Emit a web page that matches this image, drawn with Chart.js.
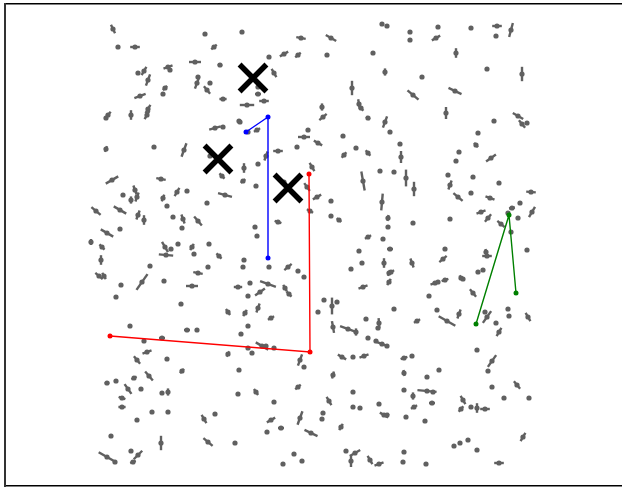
<!DOCTYPE html>
<html>
<head>
<meta charset="utf-8">
<script src="https://cdn.jsdelivr.net/npm/chart.js@4"></script>
<style>
  html, body { margin: 0; padding: 0; background: #fff; }
  #wrap { width: 622px; height: 487px; }
</style>
</head>
<body>
<div id="wrap"><canvas id="chart"></canvas></div>
<script>
// gray particles: [x, y, angle (deg), stick length] ; length 0 = dot only
const particles = [
  [113,29,65,8],[205,34,0,0],[118,47,0,0],[135,47,0,8],[214,47,-40,6],[195,62,0,10],
  [220,65,20,4],[138,73,0,0],[144,71,-60,8],[168,67,-20,8],[170,70,0,0],[148,80,-70,10],
  [198,77,0,0],[197,83,-70,10],[210,83,0,0],[207,90,50,8],[165,88,-45,5],[163,94,0,0],
  [140,96,-20,10],[223,99,0,6],[148,109,-60,8],[147,115,-60,8],[108,115,-50,7],[106,118,0,0],
  [131,115,90,8],[239,121,0,0],[215,128,-15,10],[223,127,0,0],[106,149,-70,5],[154,147,0,0],
  [184,150,-70,12],[210,156,0,0],[222,176,45,6],[112,180,-30,12],[161,179,10,8],[225,195,15,12],
  [135,190,70,8],[137,197,-70,8],[123,195,0,0],[131,200,90,6],[163,198,-70,6],[167,206,0,0],
  [177,192,-60,8],[187,191,0,0],[207,203,0,0],[96,211,40,10],[120,210,30,12],[138,215,-70,8],
  [144,220,90,8],[173,217,0,0],[183,219,70,8],[182,228,0,0],[198,221,50,10],[120,229,0,0],
  [107,233,30,12],[91,242,90,5],
  [102,247,45,6],[101,260,90,8],[165,247,60,10],[171,249,0,0],[166,255,5,12],[178,244,0,0],
  [192,247,-60,6],[194,254,0,0],[209,244,0,0],[219,256,45,6],[150,266,0,0],[208,267,0,0],
  [198,273,10,8],[99,276,40,8],[104,276,60,6],[121,285,0,0],[142,282,-55,16],[164,281,0,0],
  [192,286,0,10],[238,287,0,7],[116,297,-20,3],[181,304,0,0],[228,312,55,6],[130,326,0,0],
  [187,330,0,5],[197,330,0,0],[144,341,0,0],[162,338,0,5],[147,352,-20,8],[137,360,50,8],
  [167,359,0,0],[228,354,-60,5],[182,371,-50,5],[239,370,0,0],[149,376,50,10],[134,378,-30,5],
  [107,383,-10,4],[116,381,0,0],[128,389,55,10],[141,389,0,0],[162,393,0,0],[168,392,90,6],
  [238,394,0,0],[122,398,20,6],[122,407,0,6],[152,412,0,0],[168,412,0,0],[137,420,0,0],
  [204,419,60,8],[215,414,0,0],[111,436,0,0],[161,443,90,12],[208,442,40,10],[235,443,0,0],
  [131,451,0,0],[107,457,30,16],[115,462,0,0],[138,455,-45,10],[133,462,-20,5],
  [242,32,0,0],[301,38,10,8],[331,38,30,10],[382,24,0,0],[387,26,0,0],[269,57,0,0],
  [284,54,-30,8],[298,55,-40,6],[327,55,0,0],[373,53,0,0],[258,87,0,0],[274,73,60,8],
  [385,72,90,6],[258,94,0,5],[264,101,0,8],[247,105,0,12],[352,88,90,12],[359,104,80,8],
  [361,108,50,6],[322,107,90,6],[323,117,-40,8],[368,118,40,4],[385,122,-70,10],[240,122,0,0],
  [257,130,-30,6],[248,132,0,0],[308,130,0,0],[304,137,0,10],[318,143,30,8],[343,136,0,0],
  [297,147,0,0],[278,151,0,8],[356,148,0,0],[368,153,50,6],[344,155,-50,6],[266,156,-70,8],
  [258,164,0,0],[312,167,60,8],[244,168,90,8],[380,171,0,0],[284,182,0,0],[363,181,80,16],
  [243,181,-40,5],[256,186,0,0],[307,187,55,8],[317,197,-30,8],[331,201,0,0],[382,202,-85,14],
  [310,211,30,6],[331,216,0,0],[339,220,40,5],[278,222,20,6],[388,218,-80,5],[255,227,0,0],
  [257,236,0,0],[368,237,-30,6],[383,239,0,0],[388,227,0,0],
  [244,260,0,0],[243,267,0,0],[269,267,0,0],[288,267,-40,8],[298,271,0,0],[304,277,0,0],
  [359,251,0,0],[351,269,0,0],[362,263,0,0],[384,263,90,8],[389,273,-70,5],[250,283,0,0],
  [268,284,20,14],[260,292,-35,10],[248,296,0,0],[285,288,60,6],[289,294,45,6],[363,287,-20,8],
  [324,300,0,0],[332,306,90,14],[337,302,0,0],[318,312,0,0],[258,308,-70,8],[245,313,-60,6],
  [271,318,-30,6],[248,326,0,0],[241,334,0,0],[366,319,0,0],[379,323,85,8],[378,328,0,0],
  [333,327,80,10],[348,329,20,14],[356,332,90,6],[368,338,0,0],[376,341,0,0],[382,344,20,10],
  [387,346,0,0],[262,346,30,12],[266,346,0,0],[274,348,0,0],[248,348,0,0],[252,353,0,0],
  [342,357,30,8],[353,357,0,0],[364,356,-20,8],[300,360,-70,10],[304,367,0,0],[333,375,-75,6],
  [298,387,-40,6],[256,392,55,6],[274,402,0,0],[353,392,0,0],[329,401,60,8],[353,407,0,0],
  [360,408,0,0],[379,404,0,0],[384,415,30,8],[323,413,0,0],[322,419,0,0],[300,418,-70,12],
  [271,420,-30,8],[267,432,0,0],[281,428,0,5],[311,433,25,12],[341,427,-60,6],[346,451,0,0],
  [355,453,-30,10],[351,461,90,10],[294,454,0,0],[302,461,0,0],[283,464,0,0],[370,460,60,8],
  [379,464,-20,8],
  [410,32,0,0],[410,40,0,0],[438,27,0,0],[436,38,-30,8],[471,28,0,0],[497,26,0,8],
  [496,36,0,0],[511,30,-75,12],[456,53,90,8],[487,69,0,0],[522,74,90,12],[422,77,0,0],
  [413,95,40,12],[455,91,25,12],[446,113,90,10],[390,132,0,0],[494,121,0,0],[518,116,30,10],
  [522,124,50,8],[527,123,0,0],[478,133,0,0],[400,144,0,0],[401,157,90,10],[476,145,50,5],
  [459,152,0,0],[456,161,0,0],[491,158,-35,10],[394,172,0,0],[406,178,90,14],[414,189,90,12],
  [448,175,0,0],[450,185,-70,8],[473,177,0,0],[499,183,0,0],[458,197,40,10],[471,193,0,0],
  [490,198,20,8],[531,192,5,8],[520,203,0,0],[512,208,-10,5],[532,212,-60,10],[481,212,-20,8],
  [488,218,-50,8],[413,223,0,0],[450,219,0,0],[508,213,0,0],[518,218,0,0],[501,224,40,8],
  [511,232,0,0],
  [390,249,0,5],[445,249,0,0],[527,250,0,0],[486,252,80,5],[487,256,0,8],[412,263,70,8],
  [443,259,-40,8],[391,272,-30,6],[389,282,-60,6],[478,272,0,0],[483,270,0,0],[461,278,60,5],
  [463,279,0,0],[435,283,-20,8],[438,282,0,0],[445,280,-20,6],[473,293,50,8],[429,296,0,0],
  [394,309,0,0],[437,310,0,0],[447,321,30,16],[417,321,-30,6],[459,314,-70,8],[485,312,0,0],
  [487,317,-55,12],[508,309,0,0],[509,316,0,0],[528,317,60,8],[496,323,0,0],[499,332,-60,8],
  [477,350,0,0],[404,358,-20,6],[412,356,0,0],[492,361,-55,12],[439,370,0,0],[488,371,0,0],
  [404,373,80,5],[427,377,0,0],[492,387,0,0],[517,385,50,8],[404,390,0,0],[427,391,5,16],
  [433,392,0,0],[413,396,90,6],[463,400,60,8],[504,398,0,0],[529,398,0,0],[432,403,0,5],
  [414,407,-30,6],[461,409,-50,6],[471,407,0,0],[477,408,90,8],[485,409,0,8],[387,415,-40,4],
  [406,417,0,0],[425,421,0,0],[523,437,-60,8],[454,446,0,0],[460,443,0,0],[468,440,0,0],
  [477,450,0,0],[404,452,0,0],[403,462,0,0],[426,464,0,0],[499,463,0,8]
];

// three paths
const blueX = [246, 268, 268];
const blueY = [132, 117, 258];
const redX = [110, 310, 309];
const redY = [336, 352, 174];
const greenX = [476, 509, 516];
const greenY = [324, 215, 293];

// big crosses
const crossX = [253, 218, 288];
const crossY = [78, 159, 188];

const GRAY = "#606060";

const toPoints = (xs, ys) => xs.map((x, i) => ({ x, y: ys[i] }));
const sticks = particles.filter((p) => p[3] > 0);

function pathDataset(xs, ys, color) {
  return {
    data: toPoints(xs, ys),
    showLine: true,
    borderColor: color,
    backgroundColor: color,
    borderWidth: 1.4,
    pointRadius: 2.5,
    pointBorderWidth: 0,
    pointBackgroundColor: color,
  };
}

const edgeAxis = (position, color, width) => ({
  type: "linear",
  position,
  grid: { display: false, drawTicks: false },
  ticks: { display: false },
  border: { display: true, color, width },
});

new Chart(document.getElementById("chart"), {
  type: "scatter",
  data: {
    datasets: [
      {
        data: toPoints(crossX, crossY),
        pointStyle: "crossRot",
        pointRadius: 19,
        borderColor: "#000",
        pointBorderWidth: 5.5,
      },
      pathDataset(blueX, blueY, "#0000ff"),
      pathDataset(redX, redY, "#ff0000"),
      pathDataset(greenX, greenY, "#008000"),
      {
        data: particles.map((p) => ({ x: p[0], y: p[1] })),
        pointStyle: "circle",
        pointRadius: 2.6,
        pointBorderWidth: 0,
        backgroundColor: GRAY,
      },
      {
        data: sticks.map((p) => ({ x: p[0], y: p[1] })),
        pointStyle: "line",
        pointRadius: sticks.map((p) => p[3] * 0.6),
        pointRotation: sticks.map((p) => p[2]),
        borderColor: GRAY,
        pointBorderWidth: 2.4,
      },
    ],
  },
  options: {
    animation: false,
    responsive: true,
    maintainAspectRatio: false,
    events: [],
    layout: { autoPadding: false, padding: { left: 5, top: 4, right: 0, bottom: 1 } },
    scales: {
      x: { ...edgeAxis("bottom", "#000", 1.5), min: 5, max: 622 },
      x2: { ...edgeAxis("top", "#000", 1.5), min: 5, max: 622 },
      y: { ...edgeAxis("left", "#333", 2), min: 4, max: 486, reverse: true },
    },
    plugins: {
      legend: { display: false },
      tooltip: { enabled: false },
    },
  },
});
</script>
</body>
</html>
